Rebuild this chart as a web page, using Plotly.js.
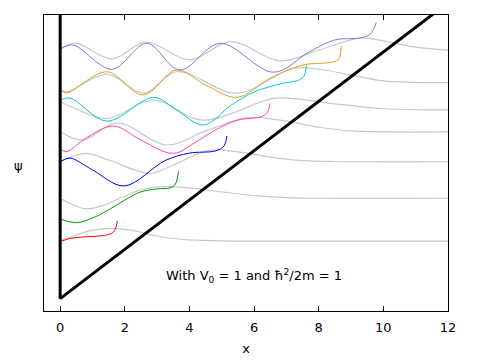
<!DOCTYPE html>
<html><head><meta charset="utf-8">
<script src="https://cdn.plot.ly/plotly-3.0.1.min.js"></script>
<style>body{margin:0}#c{width:480px;height:360px}</style>
</head><body><div id="c"></div>
<script>
// Potential V(x) = x with a hard wall at x = 0
const potX = [0, 12];
const potY = [0, 12];
const wallX = [0, 0];
const wallY = [0, 11.6];

// Exact (grey) wavefunctions, offset by energy
const greyX = [
  [0,0.5,1.0,1.6,2.2,2.6,3.0,3.5,4.0,5,6,12],
  [0,0.4,0.82,1.3,2.0,2.5,3.0,3.5,4.0,5,6,7,8,12],
  [0,0.8,1.5,2.78,3.5,4.6,5.5,6.5,7.5,8.5,12],
  [0,0.72,1.75,3.3,4.5,5.8,7,8,9,12],
  [0,0.4,1.44,2.9,4.4,6.6,7.3,8.5,10,12],
  [0,0.2,1.44,2.6,3.6,5.47,7.2,8,9,10,12],
  [0,0.5,1.6,2.66,4.0,5.26,6.8,8,9.3,10,11,12]
];
const greyY = [
  [2.35,2.58,2.78,2.85,2.78,2.66,2.54,2.44,2.38,2.34,2.33,2.33],
  [4.07,3.80,3.64,3.76,4.16,4.41,4.53,4.54,4.49,4.33,4.18,4.10,4.07,4.07],
  [5.55,5.89,5.62,5.08,5.42,6.01,5.95,5.74,5.60,5.56,5.55],
  [6.77,6.43,7.13,6.23,6.8,7.34,7.2,6.95,6.8,6.76],
  [7.98,7.75,7.30,8.05,7.24,8.12,8.10,7.9,7.7,7.65],
  [8.50,8.38,9.10,8.33,9.20,8.33,9.34,9.30,9.07,8.83,8.76],
  [10.16,10.35,9.72,10.40,9.68,10.42,9.64,10.08,10.57,10.45,10.2,10.08]
];

// WKB (coloured) wavefunctions, up to near the turning point
const colNames = ['n=1','n=2','n=3','n=4','n=5','n=6','n=7'];
const colColors = ['#ff0000','#009900','#0000ff','#ff44aa','#00cccc','#daa520','#9370db'];
const colX = [
  [0,0.3,0.7,1.2,1.5,1.65,1.72,1.77],
  [0,0.5,1.0,1.5,2.0,2.5,3.0,3.4,3.55,3.62,3.66],
  [0,0.3,1.0,1.98,3.25,4.0,4.8,5.07,5.16],
  [0,0.2,0.8,1.65,2.5,3.5,4.2,4.8,5.5,6.2,6.4,6.5],
  [0,0.3,1.44,2.89,3.6,4.43,5.3,6,6.8,7.4,7.55,7.62],
  [0,0.2,1.44,2.57,3.6,4.5,5.47,6.5,7.5,8.3,8.6,8.7],
  [0,0.4,1.6,2.68,3.7,4.95,6.6,7.7,8.5,9.3,9.6,9.78]
];
const colY = [
  [2.31,2.44,2.50,2.54,2.60,2.70,2.87,3.15],
  [3.23,3.08,3.27,3.60,4.00,4.33,4.45,4.49,4.61,4.85,5.15],
  [5.55,5.70,5.22,4.57,5.60,5.90,5.99,6.19,6.60],
  [6.06,5.96,6.51,7.00,6.43,5.89,6.35,6.84,7.24,7.37,7.53,7.92],
  [8.05,8.14,7.20,8.16,7.65,7.04,7.85,8.38,8.70,8.87,9.03,9.47],
  [8.46,8.34,9.20,8.26,9.27,8.66,8.16,8.94,9.47,9.57,9.68,10.24],
  [10.11,10.28,9.30,10.35,9.27,10.35,9.18,10.0,10.49,10.57,10.73,11.19]
];

const traces = [];
for (let i = 0; i < greyX.length; i++) {
  traces.push({x: greyX[i], y: greyY[i], mode: 'lines', line: {color: '#c8c8c8', width: 1.2, shape: 'spline'}, hoverinfo: 'skip'});
}
for (let i = 0; i < colX.length; i++) {
  traces.push({x: colX[i], y: colY[i], name: colNames[i], mode: 'lines', line: {color: colColors[i], width: 1, shape: 'spline'}});
}
traces.push({x: potX, y: potY, mode: 'lines', line: {color: '#000', width: 3}});
traces.push({x: wallX, y: wallY, mode: 'lines', line: {color: '#000', width: 3}});

const layout = {
  width: 480, height: 360,
  margin: {l: 44, r: 32, t: 15, b: 49},
  showlegend: false,
  paper_bgcolor: '#fff', plot_bgcolor: '#fff',
  font: {family: 'DejaVu Sans', size: 13, color: '#000'},
  xaxis: {range: [-0.5, 12], tickvals: [0,2,4,6,8,10,12], ticks: 'inside', ticklen: 5, tickcolor: '#000',
          ticklabelstandoff: 4,
          showline: true, mirror: 'ticks', linecolor: '#000', linewidth: 1, showgrid: false, zeroline: false,
          title: {text: 'x', standoff: 10, font: {size: 13}}},
  yaxis: {range: [-0.5, 11.5], showticklabels: false, ticks: '', showline: true, mirror: true,
          linecolor: '#000', linewidth: 1, showgrid: false, zeroline: false},
  annotations: [
    {x: 6.0, y: 0.92, xref: 'x', yref: 'y', text: 'With V<sub>0</sub> = 1 and ħ<sup>2</sup>/2m = 1', showarrow: false, font: {size: 13}},
    {x: -26/404, y: (311-165)/296, xref: 'paper', yref: 'paper', xanchor: 'center', yanchor: 'middle', text: 'ψ', showarrow: false, font: {size: 13}}
  ]
};
Plotly.newPlot('c', traces, layout, {staticPlot: true});
</script></body></html>
